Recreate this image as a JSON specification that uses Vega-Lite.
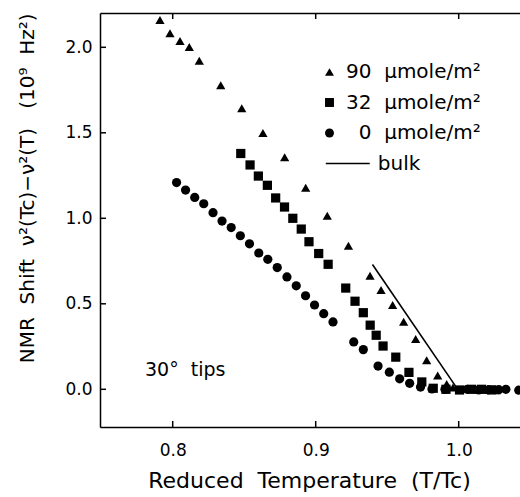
{
  "$schema": "https://vega.github.io/schema/vega-lite/v6.json",
  "width": 420,
  "height": 414,
  "autosize": {"type": "none"},
  "padding": {"left": 100, "top": 13, "right": 0, "bottom": 70},
  "background": "white",
  "config": {
    "view": {"stroke": null},
    "font": "DejaVu Sans",
    "axis": {
      "domainColor": "black", "domainWidth": 1.5, "tickColor": "black", "tickWidth": 1.5,
      "labelColor": "black", "titleColor": "black", "labelFontSize": 17, "titleFontSize": 20,
      "titleFontWeight": "normal", "grid": false, "labelFont": "DejaVu Sans", "titleFont": "DejaVu Sans"
    },
    "legend": {"labelFont": "DejaVu Sans"}
  },
  "datasets": {
    "pts": [
      {"s": "90", "x": 0.7911, "y": 2.160},
      {"s": "90", "x": 0.7981, "y": 2.082},
      {"s": "90", "x": 0.8051, "y": 2.037},
      {"s": "90", "x": 0.8116, "y": 2.002},
      {"s": "90", "x": 0.8186, "y": 1.922},
      {"s": "90", "x": 0.8336, "y": 1.778},
      {"s": "90", "x": 0.8483, "y": 1.643},
      {"s": "90", "x": 0.8631, "y": 1.499},
      {"s": "90", "x": 0.8783, "y": 1.357},
      {"s": "90", "x": 0.8930, "y": 1.179},
      {"s": "90", "x": 0.9081, "y": 1.015},
      {"s": "90", "x": 0.9229, "y": 0.840},
      {"s": "90", "x": 0.9380, "y": 0.664},
      {"s": "90", "x": 0.9457, "y": 0.581},
      {"s": "90", "x": 0.9538, "y": 0.493},
      {"s": "90", "x": 0.9615, "y": 0.395},
      {"s": "90", "x": 0.9699, "y": 0.294},
      {"s": "90", "x": 0.9776, "y": 0.170},
      {"s": "90", "x": 0.9853, "y": 0.080},
      {"s": "90", "x": 0.9916, "y": 0.031},
      {"s": "90", "x": 0.9960, "y": 0.010},
      {"s": "90", "x": 1.012, "y": 0.000},
      {"s": "90", "x": 1.019, "y": 0.000},
      {"s": "90", "x": 1.026, "y": -0.005},
      {"s": "32", "x": 0.8476, "y": 1.379},
      {"s": "32", "x": 0.8541, "y": 1.312},
      {"s": "32", "x": 0.8599, "y": 1.247},
      {"s": "32", "x": 0.8662, "y": 1.193},
      {"s": "32", "x": 0.8720, "y": 1.119},
      {"s": "32", "x": 0.8782, "y": 1.066},
      {"s": "32", "x": 0.8840, "y": 1.000},
      {"s": "32", "x": 0.8899, "y": 0.937},
      {"s": "32", "x": 0.8953, "y": 0.863},
      {"s": "32", "x": 0.9021, "y": 0.794},
      {"s": "32", "x": 0.9087, "y": 0.731},
      {"s": "32", "x": 0.9210, "y": 0.592},
      {"s": "32", "x": 0.9275, "y": 0.515},
      {"s": "32", "x": 0.9333, "y": 0.448},
      {"s": "32", "x": 0.9381, "y": 0.375},
      {"s": "32", "x": 0.9423, "y": 0.316},
      {"s": "32", "x": 0.9471, "y": 0.253},
      {"s": "32", "x": 0.9560, "y": 0.188},
      {"s": "32", "x": 0.9652, "y": 0.099},
      {"s": "32", "x": 0.9742, "y": 0.043},
      {"s": "32", "x": 0.9822, "y": 0.006},
      {"s": "32", "x": 0.9911, "y": 0.000},
      {"s": "32", "x": 1.0006, "y": -0.004},
      {"s": "32", "x": 1.009, "y": 0.000},
      {"s": "32", "x": 1.016, "y": 0.000},
      {"s": "32", "x": 1.023, "y": -0.003},
      {"s": "0", "x": 0.8027, "y": 1.209},
      {"s": "0", "x": 0.8090, "y": 1.165},
      {"s": "0", "x": 0.8154, "y": 1.122},
      {"s": "0", "x": 0.8217, "y": 1.085},
      {"s": "0", "x": 0.8282, "y": 1.033},
      {"s": "0", "x": 0.8345, "y": 0.984},
      {"s": "0", "x": 0.8409, "y": 0.946},
      {"s": "0", "x": 0.8473, "y": 0.898},
      {"s": "0", "x": 0.8537, "y": 0.851},
      {"s": "0", "x": 0.8602, "y": 0.797},
      {"s": "0", "x": 0.8665, "y": 0.760},
      {"s": "0", "x": 0.8731, "y": 0.712},
      {"s": "0", "x": 0.8799, "y": 0.657},
      {"s": "0", "x": 0.8864, "y": 0.605},
      {"s": "0", "x": 0.8929, "y": 0.547},
      {"s": "0", "x": 0.8992, "y": 0.493},
      {"s": "0", "x": 0.9056, "y": 0.442},
      {"s": "0", "x": 0.9121, "y": 0.394},
      {"s": "0", "x": 0.9266, "y": 0.277},
      {"s": "0", "x": 0.9333, "y": 0.232},
      {"s": "0", "x": 0.9436, "y": 0.136},
      {"s": "0", "x": 0.9515, "y": 0.100},
      {"s": "0", "x": 0.9587, "y": 0.061},
      {"s": "0", "x": 0.9657, "y": 0.035},
      {"s": "0", "x": 0.9733, "y": 0.013},
      {"s": "0", "x": 0.9813, "y": 0.002},
      {"s": "0", "x": 0.9904, "y": 0.000},
      {"s": "0", "x": 1.006, "y": 0.000},
      {"s": "0", "x": 1.014, "y": -0.004},
      {"s": "0", "x": 1.021, "y": -0.004},
      {"s": "0", "x": 1.028, "y": -0.002},
      {"s": "0", "x": 1.033, "y": 0.000},
      {"s": "0", "x": 1.042, "y": -0.005}
    ],
    "bulk": [
      {"x": 0.9397, "y": 0.730},
      {"x": 0.9985, "y": 0.010}
    ],
    "note": [
      {"x": 0.7806, "y": 0.113, "t": "30°\u00a0 tips"}
    ],
    "xticks": [{"v": 0.8}, {"v": 0.9}, {"v": 1.0}],
    "yticks": [{"v": 0}, {"v": 0.5}, {"v": 1.0}, {"v": 1.5}, {"v": 2.0}]
  },
  "layer": [
    {
      "data": {"name": "bulk"},
      "mark": {"type": "line", "color": "black", "strokeWidth": 1.6},
      "encoding": {
        "x": {"field": "x", "type": "quantitative",
              "scale": {"domain": [0.74916, 1.04287], "nice": false, "zero": false},
              "axis": {"orient": "top", "values": [0.8, 0.9, 1.0], "labels": false, "title": null, "ticks": false, "tickSize": 0}},
        "y": {"field": "y", "type": "quantitative",
              "scale": {"domain": [-0.2205, 2.2006], "nice": false, "zero": false},
              "axis": {"orient": "left", "values": [0, 0.5, 1.0, 1.5, 2.0], "format": ".1f", "ticks": false, "tickSize": 0, "labelPadding": 8,
                       "title": "NMR\u00a0 Shift\u00a0 ν²(Tc)−ν²(T)\u00a0\u00a0 (10⁹\u00a0 Hz²)", "titleX": -73, "titleY": 0, "titleAngle": -90, "titleBaseline": "middle", "titleAlign": "right"}}
      }
    },
    {
      "data": {"name": "pts"},
      "mark": {"type": "point", "filled": true, "opacity": 1, "color": "black", "size": 85},
      "encoding": {
        "x": {"field": "x", "type": "quantitative",
              "axis": {"orient": "bottom", "values": [0.8, 0.9, 1.0], "format": ".1f", "ticks": false, "tickSize": 0, "labelPadding": 15,
                       "title": "Reduced\u00a0 Temperature\u00a0 (T/Tc)", "titleFontSize": 22, "titleX": 209, "titleY": 53, "titleBaseline": "middle", "titleAlign": "center"}},
        "y": {"field": "y", "type": "quantitative", "axis": null},
        "shape": {"field": "s", "type": "nominal",
                  "scale": {"domain": ["90", "32", "0", "bulk"], "range": ["triangle-up", "square", "circle", "M-0.83,-0.18H9V0.18H-0.83Z"]},
                  "legend": {"orient": "none", "legendX": 219.5, "legendY": 49, "title": null, "padding": 0,
                             "symbolSize": 80, "symbolFillColor": "black", "symbolStrokeWidth": 0, "symbolOpacity": 1,
                             "labelFontSize": 20, "labelColor": "black", "labelOffset": 6.5, "rowPadding": 10.5,
                             "labelExpr": "datum.label == '90' ? '90\u00a0 μmole/m²' : datum.label == '32' ? '32\u00a0 μmole/m²' : datum.label == '0' ? '\u200b\u00a0\u00a00\u00a0 μmole/m²' : '\u200b\u00a0\u00a0\u00a0\u00a0\u00a0bulk'"}}
      }
    },
    {
      "data": {"name": "note"},
      "mark": {"type": "text", "align": "left", "baseline": "middle", "fontSize": 19, "font": "DejaVu Sans", "color": "black"},
      "encoding": {
        "x": {"field": "x", "type": "quantitative", "axis": null},
        "y": {"field": "y", "type": "quantitative", "axis": null},
        "text": {"field": "t"}
      }
    },
    {
      "data": {"name": "xticks"},
      "mark": {"type": "rule", "color": "black", "strokeWidth": 1.5},
      "encoding": {
        "x": {"field": "v", "type": "quantitative", "axis": null},
        "y": {"datum": -0.2205, "type": "quantitative", "axis": null},
        "y2": {"datum": -0.1854}
      }
    },
    {
      "data": {"name": "xticks"},
      "mark": {"type": "rule", "color": "black", "strokeWidth": 1.5},
      "encoding": {
        "x": {"field": "v", "type": "quantitative", "axis": null},
        "y": {"datum": 2.2006, "type": "quantitative", "axis": null},
        "y2": {"datum": 2.1655}
      }
    },
    {
      "data": {"name": "yticks"},
      "mark": {"type": "rule", "color": "black", "strokeWidth": 1.5},
      "encoding": {
        "y": {"field": "v", "type": "quantitative", "axis": null},
        "x": {"datum": 0.74916, "type": "quantitative", "axis": null},
        "x2": {"datum": 0.75336}
      }
    }
  ],
  "resolve": {"axis": {"x": "independent", "y": "independent"}}
}
